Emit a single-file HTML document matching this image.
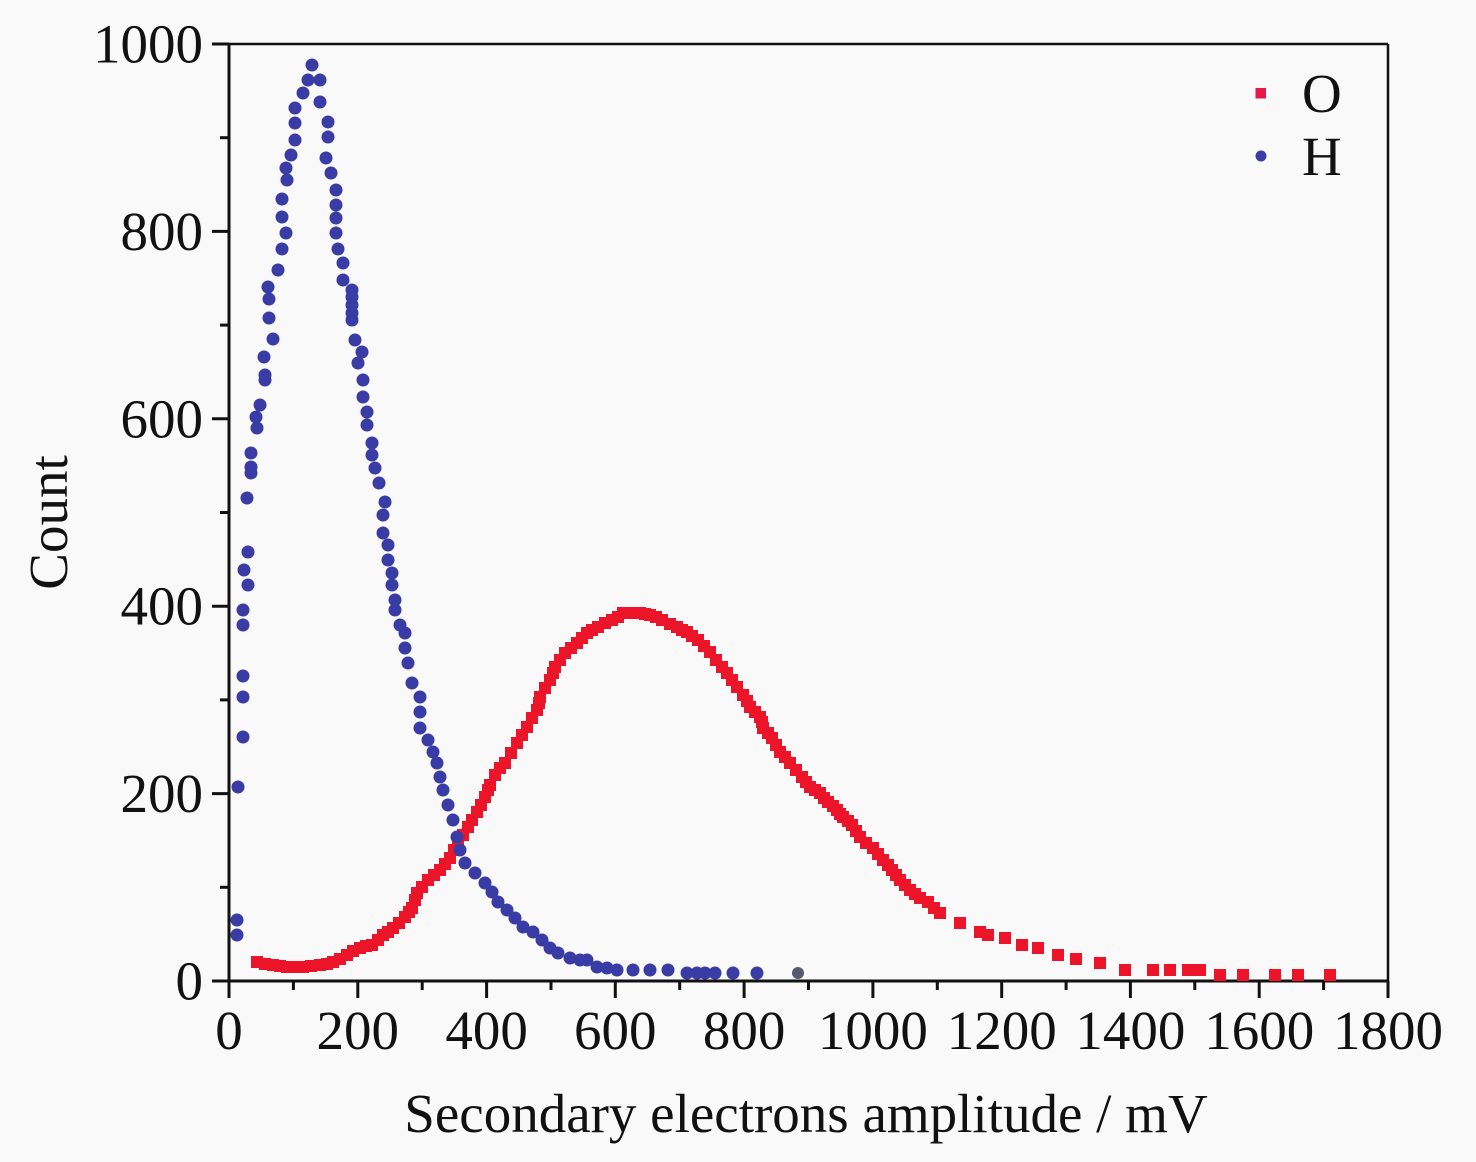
<!DOCTYPE html>
<html><head><meta charset="utf-8"><style>
html,body{margin:0;padding:0;background:#f9f9f9;}
svg{display:block;}
text{font-family:"Liberation Serif","Times New Roman",serif;fill:#111;}
</style></head><body>
<svg width="1476" height="1162" viewBox="0 0 1476 1162" xmlns="http://www.w3.org/2000/svg">
<defs>
<marker id="sq" markerWidth="13" markerHeight="13" refX="6" refY="6" markerUnits="userSpaceOnUse" overflow="visible"><rect x="0" y="0" width="12" height="12" fill="#ec1429"/></marker>
<marker id="dot" markerWidth="14" markerHeight="14" refX="7" refY="7" markerUnits="userSpaceOnUse" overflow="visible"><circle cx="7" cy="7" r="6.5" fill="#3a3ca6"/></marker>
</defs>
<rect width="1476" height="1162" fill="#f9f9f9"/>

<g stroke="#111" fill="none">
<line x1="229" y1="44" x2="1388" y2="44" stroke-width="2.5"/>
<line x1="1388" y1="44" x2="1388" y2="981" stroke-width="2.5"/>
<line x1="229" y1="43" x2="229" y2="982.5" stroke-width="3"/>
<line x1="212" y1="981" x2="1389" y2="981" stroke-width="3"/>
</g>
<g stroke="#111" stroke-width="3">
<line x1="229" y1="981" x2="229" y2="998"/>
<line x1="357.8" y1="981" x2="357.8" y2="998"/>
<line x1="486.6" y1="981" x2="486.6" y2="998"/>
<line x1="615.3" y1="981" x2="615.3" y2="998"/>
<line x1="744.1" y1="981" x2="744.1" y2="998"/>
<line x1="872.9" y1="981" x2="872.9" y2="998"/>
<line x1="1001.7" y1="981" x2="1001.7" y2="998"/>
<line x1="1130.4" y1="981" x2="1130.4" y2="998"/>
<line x1="1259.2" y1="981" x2="1259.2" y2="998"/>
<line x1="1388" y1="981" x2="1388" y2="998"/>
<line x1="293.4" y1="981" x2="293.4" y2="990"/>
<line x1="422.2" y1="981" x2="422.2" y2="990"/>
<line x1="551" y1="981" x2="551" y2="990"/>
<line x1="679.7" y1="981" x2="679.7" y2="990"/>
<line x1="808.5" y1="981" x2="808.5" y2="990"/>
<line x1="937.3" y1="981" x2="937.3" y2="990"/>
<line x1="1066.1" y1="981" x2="1066.1" y2="990"/>
<line x1="1194.8" y1="981" x2="1194.8" y2="990"/>
<line x1="1323.6" y1="981" x2="1323.6" y2="990"/>
<line x1="212" y1="981" x2="229" y2="981"/>
<line x1="212" y1="793.6" x2="229" y2="793.6"/>
<line x1="212" y1="606.2" x2="229" y2="606.2"/>
<line x1="212" y1="418.8" x2="229" y2="418.8"/>
<line x1="212" y1="231.4" x2="229" y2="231.4"/>
<line x1="212" y1="44" x2="229" y2="44"/>
<line x1="220" y1="887.3" x2="229" y2="887.3"/>
<line x1="220" y1="699.9" x2="229" y2="699.9"/>
<line x1="220" y1="512.5" x2="229" y2="512.5"/>
<line x1="220" y1="325.1" x2="229" y2="325.1"/>
<line x1="220" y1="137.7" x2="229" y2="137.7"/>
</g>

<g font-size="55" text-anchor="middle">
<text x="229" y="1049">0</text>
<text x="357.8" y="1049">200</text>
<text x="486.6" y="1049">400</text>
<text x="615.3" y="1049">600</text>
<text x="744.1" y="1049">800</text>
<text x="872.9" y="1049">1000</text>
<text x="1001.7" y="1049">1200</text>
<text x="1130.4" y="1049">1400</text>
<text x="1259.2" y="1049">1600</text>
<text x="1388" y="1049">1800</text>
</g>
<g font-size="55" text-anchor="end">
<text x="203" y="999.5">0</text>
<text x="203" y="812">200</text>
<text x="203" y="624.7">400</text>
<text x="203" y="437.3">600</text>
<text x="203" y="250">800</text>
<text x="203" y="62.5">1000</text>
</g>

<text x="806" y="1132" font-size="55" text-anchor="middle">Secondary electrons amplitude / mV</text>
<text transform="translate(67,522.5) rotate(-90)" font-size="55" text-anchor="middle">Count</text>

<polyline fill="none" stroke="none" marker-start="url(#sq)" marker-mid="url(#sq)" marker-end="url(#sq)" points="257,962 265,964 273,965 280,966 287,967 295,967 303,967 311,966 320,965 327,964 333,962 340,959 347,955 353,951 360,948 366,946 372,945 378,940 383,935 388,932 393,928 399,923 405,917 409,912 412,908 415,900 417,893 422,887 428,880 434,875 440,870 445,864 450,858 454,850 458,843 463,835 468,827 472,820 477,812 481,805 485,797 488,790 490,785 495,775 500,768 505,763 511,753 517,743 522,735 527,727 532,718 537,710 539,703 540,697 545,688 550,680 553,673 555,667 560,660 565,653 571,648 577,643 582,638 587,633 592,630 598,627 605,623 612,620 618,617 623,613 631,613 640,613 645,614 650,615 656,617 662,620 670,624 677,627 682,630 687,632 692,636 698,640 704,646 710,652 716,660 722,667 727,673 732,680 737,687 743,695 747,701 750,707 755,712 760,717 762,722 763,728 768,733 772,738 776,745 780,752 785,757 790,763 796,770 802,777 806,782 810,787 815,790 820,793 824,798 828,802 833,806 837,810 840,814 843,817 848,821 852,825 856,831 860,837 866,843 873,848 878,854 883,860 888,865 892,870 896,875 900,880 905,885 910,890 915,894 920,898 928,902 934,908 940,913 960,923 980,932 988,935 1005,938 1022,945 1038,948 1058,955 1076,959 1100,963 1125,970 1153,970 1170,970 1188,970 1200,970 1220,975 1243,975 1275,975 1298,975 1330,975"/>

<polyline fill="none" stroke="none" marker-start="url(#dot)" marker-mid="url(#dot)" marker-end="url(#dot)" points="237,935 237,920 238,787 243,737 243,697 243,676 243,625 243,610 248,585 244,570 248,552 247,498 251,473 251,467 251,453 257,428 256,417 260,405 265,380 265,375 264,357 273,339 269,318 269,299 268,287 278,270 282,249 286,233 282,217 282,199 287,180 286,168 291,155 295,140 295,123 295,108 303,93 308,80 312,65 320,80 320,102 328,122 328,137 326,158 331,173 336,190 336,205 336,218 336,233 338,249 343,263 343,280 352,290 352,297 352,305 352,313 352,320 355,340 362,352 358,363 363,380 363,397 367,412 367,425 372,443 372,455 375,468 379,483 385,502 383,515 383,533 388,545 388,560 392,573 392,585 395,600 395,610 400,625 405,633 405,648 408,663 412,683 420,697 420,712 420,728 428,740 433,752 437,763 440,777 443,790 448,805 453,820 457,837 460,850 465,863 475,873 485,883 492,892 498,902 507,910 515,918 523,927 533,932 542,940 550,948 558,953 570,958 580,960 587,960 597,967 607,968 617,970 633,970 650,970 668,970 687,973 697,973 705,973 715,973 733,973 757,973"/>
<circle cx="798" cy="973" r="6" fill="#555a70"/>

<rect x="1255.5" y="88" width="10.5" height="10.5" fill="#e8194a"/>
<circle cx="1261" cy="156" r="5.5" fill="#3a3ca6"/>
<text x="1302" y="112" font-size="55">O</text>
<text x="1302" y="175" font-size="55">H</text>
</svg>
</body></html>
